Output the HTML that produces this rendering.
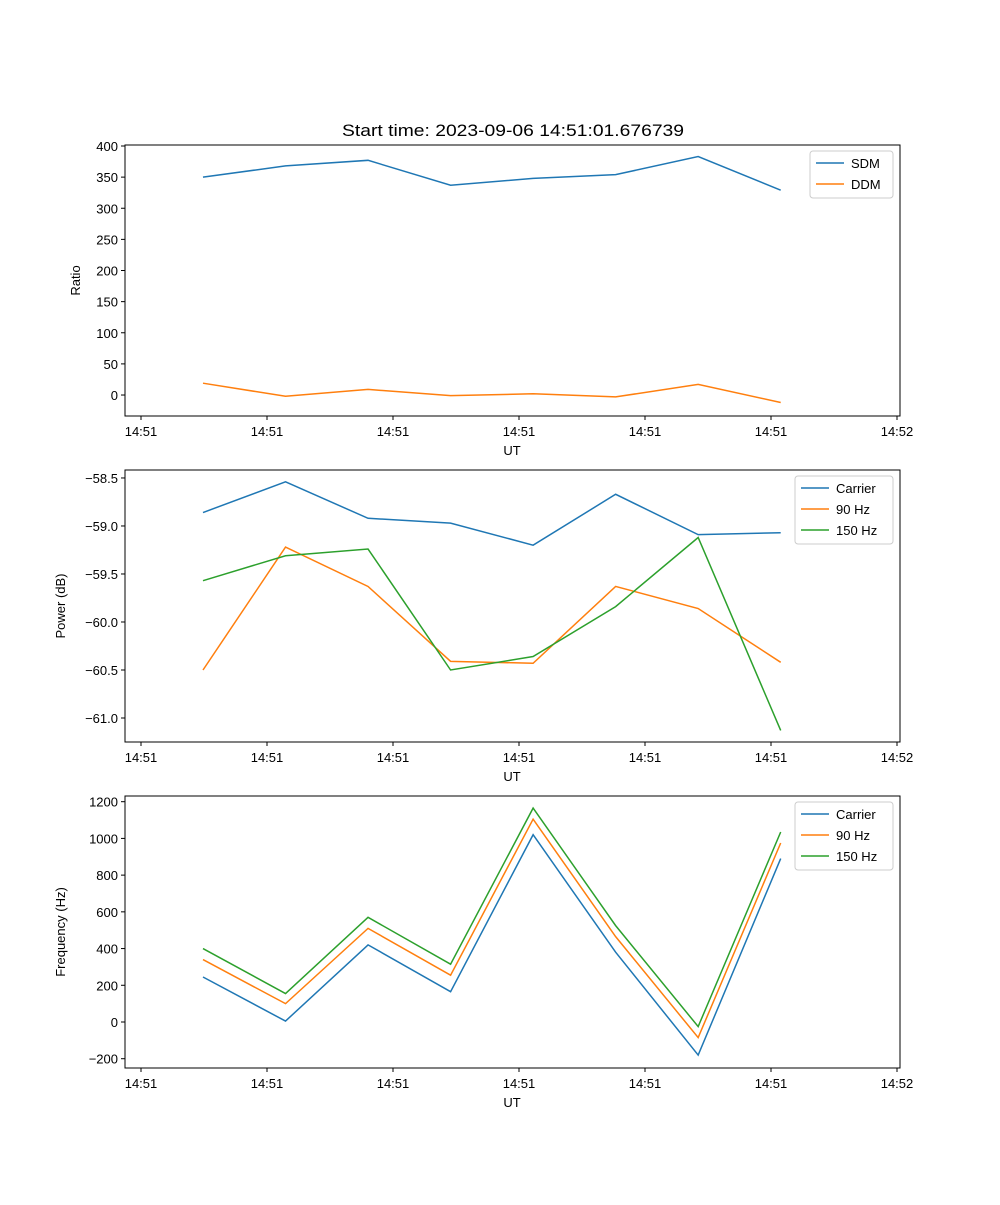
<!DOCTYPE html>
<html><head><meta charset="utf-8"><style>
body{margin:0;background:#fff}
svg text{font-family:"Liberation Sans","DejaVu Sans",sans-serif;fill:#000}
</style></head><body>
<svg id="fig" width="1000" height="1200" xmlns="http://www.w3.org/2000/svg">
<rect width="1000" height="1200" fill="#fff"/>
<text x="513" y="136" font-size="17" text-anchor="middle" textLength="342" lengthAdjust="spacingAndGlyphs">Start time: 2023-09-06 14:51:01.676739</text>
</svg>
<script>
const tickLabels=["14:51","14:51","14:51","14:51","14:51","14:51","14:52"];
const times=[0.492,1.147,1.802,2.457,3.112,3.767,4.422,5.077];
const sdm=[350,368,377,337,348,354,383,329];
const ddm=[19,-2,9,-1,2,-3,17,-12];
const pwrCarrier=[-58.86,-58.54,-58.92,-58.97,-59.2,-58.67,-59.09,-59.07];
const pwr90=[-60.5,-59.22,-59.63,-60.41,-60.43,-59.63,-59.86,-60.42];
const pwr150=[-59.57,-59.31,-59.24,-60.5,-60.36,-59.84,-59.12,-61.13];
const frqCarrier=[245,5,420,165,1020,380,-180,890];
const frq90=[340,100,510,255,1105,465,-85,975];
const frq150=[400,155,570,315,1165,525,-25,1035];
const yTicks1=[0,50,100,150,200,250,300,350,400];
const yTicks2=[-61.0,-60.5,-60.0,-59.5,-59.0,-58.5];
const yTicks3=[-200,0,200,400,600,800,1000,1200];
const NS="http://www.w3.org/2000/svg";
const svg=document.getElementById('fig');
function mk(tag,attrs,parent){const e=document.createElementNS(NS,tag);for(const k in attrs)e.setAttribute(k,attrs[k]);(parent||svg).appendChild(e);return e;}
const C=['#1f77b4','#ff7f0e','#2ca02c'];
const L=125,R=900;
function xs(t){return 141+t*126;}
function panel(name,top,bot,ymin,ymax,ticks,fmt,ylabel,series,names,legX,legW){
  const g=mk('g',{});
  
  
  const ys=v=>bot-(v-ymin)/(ymax-ymin)*(bot-top);
  ticks.forEach(v=>{const y=ys(v);
    mk('line',{x1:L-4,x2:L,y1:y,y2:y,stroke:'#000','stroke-width':1},g);
    const t=mk('text',{x:L-7,y:y+5,'font-size':13,'text-anchor':'end'},g);t.textContent=fmt(v);
    });
  tickLabels.forEach((s,i)=>{const x=xs(i);
    mk('line',{x1:x,x2:x,y1:bot,y2:bot+4,stroke:'#000','stroke-width':1},g);
    const t=mk('text',{x:x,y:bot+20,'font-size':13,'text-anchor':'middle'},g);t.textContent=s;
    });
  series.forEach((d,k)=>{const p=mk('polyline',{points:d.map((v,i)=>xs(times[i])+','+ys(v)).join(' '),fill:'none',stroke:C[k],'stroke-width':1.5},g);
    
    });
  mk('rect',{x:L,y:top,width:R-L,height:bot-top,fill:'none',stroke:'#000','stroke-width':1},g);
  const xl=mk('text',{x:512,y:bot+39,'font-size':13,'text-anchor':'middle'},g);xl.textContent='UT';
  
  const yl=mk('text',{x:0,y:0,'font-size':13,'text-anchor':'middle',transform:`translate(${name==='ratio-panel'?80:65},${(top+bot)/2}) rotate(-90)`},g);yl.textContent=ylabel;
  
  const lg=mk('g',{},g);
  
  mk('rect',{x:legX,y:top+6,width:legW,height:names.length*21+5,fill:'#fff',stroke:'#ccc',rx:3},lg);
  names.forEach((n,k)=>{const y=top+18+k*21;
    mk('line',{x1:legX+6,x2:legX+34,y1:y,y2:y,stroke:C[k],'stroke-width':1.5},lg);
    const t=mk('text',{x:legX+41,y:y+5,'font-size':13},lg);t.textContent=n;
    });
}
panel('ratio-panel',145,416,-33.7,401.6,yTicks1,v=>v,'Ratio',[sdm,ddm],['SDM','DDM'],810,83);
panel('power-panel',470,742,-61.25,-58.417,yTicks2,v=>'\u2212'+Math.abs(v).toFixed(1),'Power (dB)',[pwrCarrier,pwr90,pwr150],['Carrier','90 Hz','150 Hz'],795,98);
panel('frequency-panel',796,1068,-250.6,1231,yTicks3,v=>v<0?'\u2212'+Math.abs(v):v,'Frequency (Hz)',[frqCarrier,frq90,frq150],['Carrier','90 Hz','150 Hz'],795,98);
</script>
</body></html>
